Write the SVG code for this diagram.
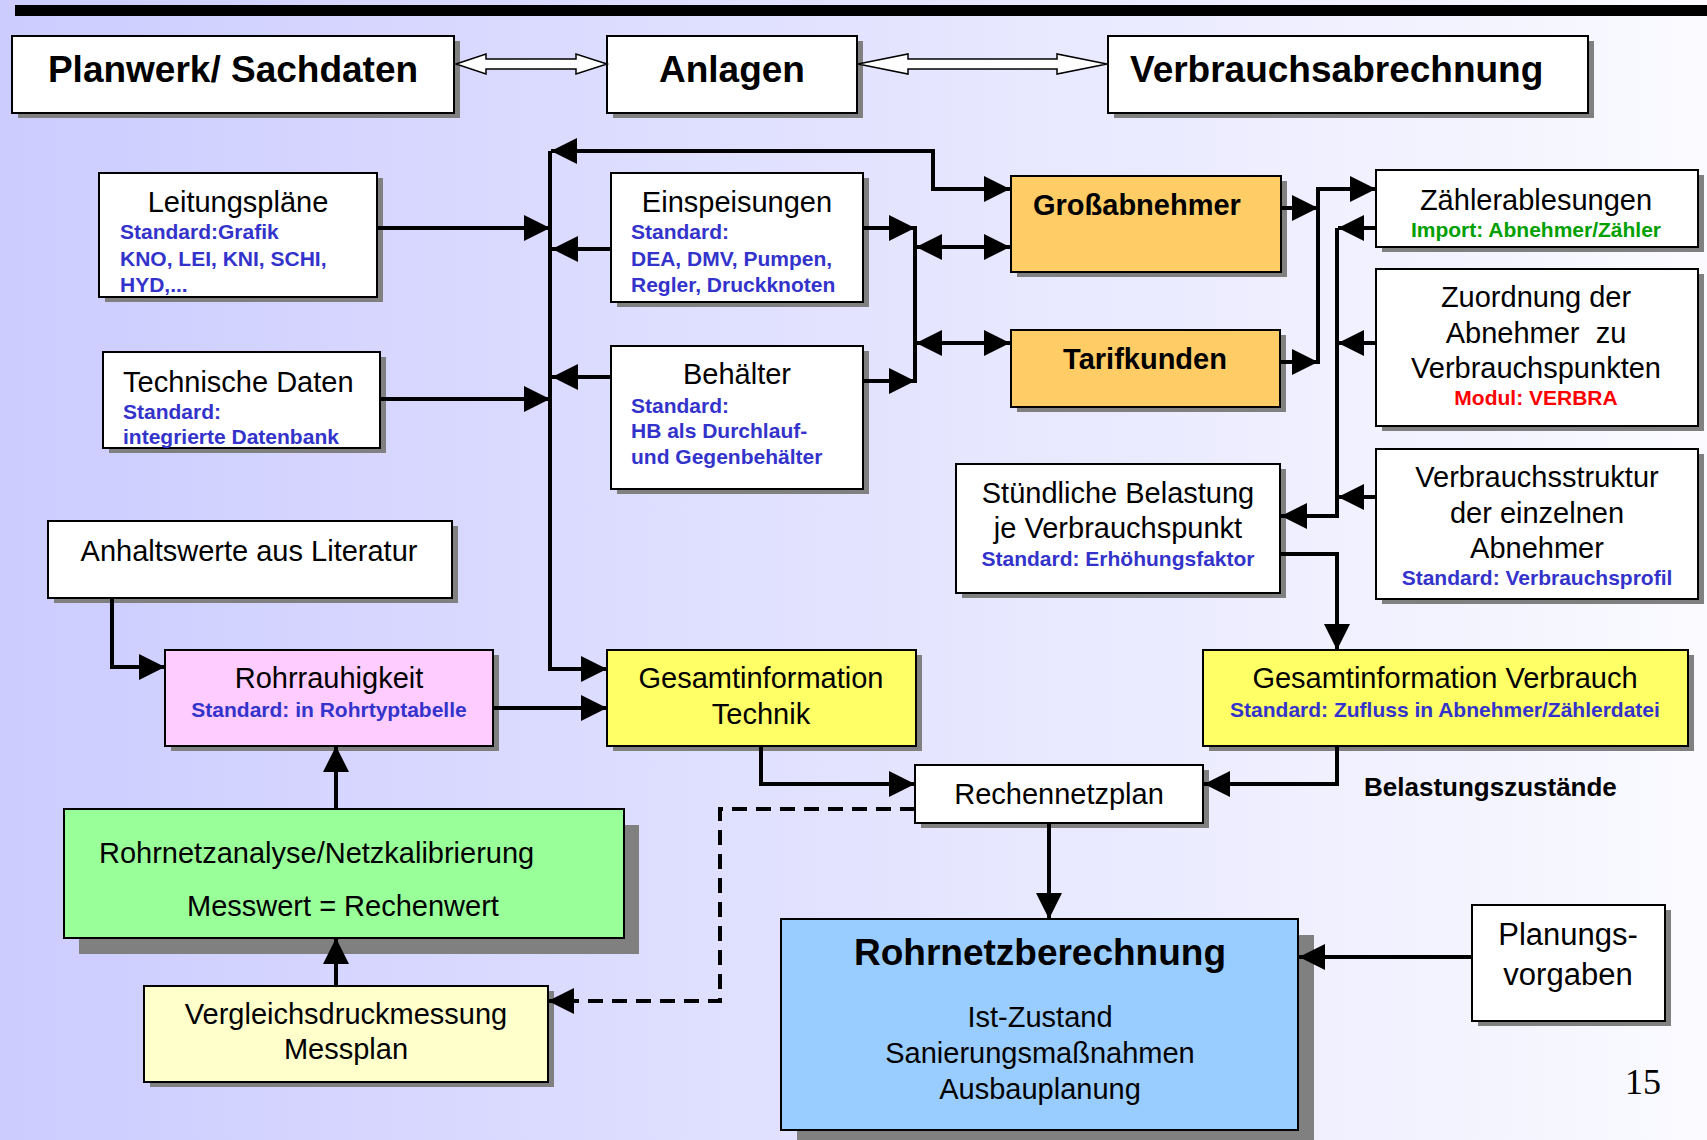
<svg xmlns="http://www.w3.org/2000/svg" width="1707" height="1140" viewBox="0 0 1707 1140">
<defs>
<linearGradient id="bg" x1="0" y1="0" x2="1" y2="0">
<stop offset="0" stop-color="#CCCCFF"/>
<stop offset="1" stop-color="#FAFAFF"/>
</linearGradient>
<marker id="ah" markerUnits="userSpaceOnUse" markerWidth="26" markerHeight="26" refX="26" refY="13" orient="auto-start-reverse">
<path d="M0,0 L26,13 L0,26 z" fill="#000"/>
</marker>
<style>
.box{stroke:#000;stroke-width:2}
.w{fill:#fff}
.sh{fill:#808080}
.t{font-family:"Liberation Sans",Arial,sans-serif;font-size:29px;fill:#000}
.b{font-weight:bold}
.h{font-size:37px}
.s{font-family:"Liberation Sans",Arial,sans-serif;font-size:21px;font-weight:bold;fill:#3333CC}
.c{text-anchor:middle}
.ln{fill:none;stroke:#000;stroke-width:4}
.arr{marker-end:url(#ah)}
.dbl{marker-start:url(#ah);marker-end:url(#ah)}
.dash{stroke-dasharray:15 9}
.hollow{fill:#fff;stroke:#000;stroke-width:1.5}
</style>
</defs>
<rect x="0" y="0" width="1707" height="1140" fill="url(#bg)"/>
<rect x="15" y="5" width="1692" height="11" fill="#000"/>

<g id="planwerk">
<rect class="sh" x="18" y="41" width="442" height="77"/>
<rect class="box w" x="12" y="36" width="442" height="77"/>
<text class="t b h c" x="233" y="82">Planwerk/ Sachdaten</text>
</g>
<g id="anlagen">
<rect class="sh" x="613" y="41" width="250" height="77"/>
<rect class="box w" x="607" y="36" width="250" height="77"/>
<text class="t b h c" x="732" y="82">Anlagen</text>
</g>
<g id="verbrauchsabrechnung">
<rect class="sh" x="1114" y="41" width="480" height="77"/>
<rect class="box w" x="1108" y="36" width="480" height="77"/>
<text class="t b h" x="1130" y="82">Verbrauchsabrechnung</text>
</g>

<g id="leitungsplaene">
<rect class="sh" x="105" y="178" width="278" height="124"/>
<rect class="box w" x="99" y="173" width="278" height="124"/>
<text class="t c" x="238" y="212">Leitungspläne</text>
<text class="s" x="120" y="239">Standard:Grafik</text>
<text class="s" x="120" y="266">KNO, LEI, KNI, SCHI,</text>
<text class="s" x="120" y="292">HYD,...</text>
</g>
<g id="einspeisungen">
<rect class="sh" x="617" y="178" width="252" height="129"/>
<rect class="box w" x="611" y="173" width="252" height="129"/>
<text class="t c" x="737" y="212">Einspeisungen</text>
<text class="s" x="631" y="239">Standard:</text>
<text class="s" x="631" y="266">DEA, DMV, Pumpen,</text>
<text class="s" x="631" y="292">Regler, Druckknoten</text>
</g>
<g id="technische-daten">
<rect class="sh" x="109" y="357" width="277" height="96"/>
<rect class="box w" x="103" y="352" width="277" height="96"/>
<text class="t" x="123" y="392">Technische Daten</text>
<text class="s" x="123" y="419">Standard:</text>
<text class="s" x="123" y="444">integrierte Datenbank</text>
</g>
<g id="behaelter">
<rect class="sh" x="617" y="351" width="252" height="143"/>
<rect class="box w" x="611" y="346" width="252" height="143"/>
<text class="t c" x="737" y="384">Behälter</text>
<text class="s" x="631" y="413">Standard:</text>
<text class="s" x="631" y="438">HB als Durchlauf-</text>
<text class="s" x="631" y="464">und Gegenbehälter</text>
</g>
<g id="anhaltswerte">
<rect class="sh" x="54" y="526" width="404" height="77"/>
<rect class="box w" x="48" y="521" width="404" height="77"/>
<text class="t c" x="249" y="561">Anhaltswerte aus Literatur</text>
</g>
<g id="rohrrauhigkeit">
<rect class="sh" x="171" y="655" width="328" height="96"/>
<rect class="box" fill="#FFCCFF" x="165" y="650" width="328" height="96"/>
<text class="t c" x="329" y="688">Rohrrauhigkeit</text>
<text class="s c" x="329" y="717">Standard: in Rohrtyptabelle</text>
</g>
<g id="gesamtinfo-technik">
<rect class="sh" x="613" y="655" width="309" height="96"/>
<rect class="box" fill="#FFFF66" x="607" y="650" width="309" height="96"/>
<text class="t c" x="761" y="688">Gesamtinformation</text>
<text class="t c" x="761" y="724">Technik</text>
</g>
<g id="grossabnehmer">
<rect class="sh" x="1017" y="181" width="270" height="96"/>
<rect class="box" fill="#FFCC66" x="1011" y="176" width="270" height="96"/>
<text class="t b" x="1033" y="215">Großabnehmer</text>
</g>
<g id="tarifkunden">
<rect class="sh" x="1017" y="335" width="269" height="77"/>
<rect class="box" fill="#FFCC66" x="1011" y="330" width="269" height="77"/>
<text class="t b c" x="1145" y="369">Tarifkunden</text>
</g>
<g id="zaehlerablesungen">
<rect class="sh" x="1382" y="175" width="322" height="77"/>
<rect class="box w" x="1376" y="170" width="322" height="77"/>
<text class="t c" x="1536" y="210">Zählerablesungen</text>
<text class="s c" x="1536" y="237" fill="#00A000" style="fill:#00A000">Import: Abnehmer/Zähler</text>
</g>
<g id="zuordnung">
<rect class="sh" x="1382" y="274" width="322" height="157"/>
<rect class="box w" x="1376" y="269" width="322" height="157"/>
<text class="t c" x="1536" y="307">Zuordnung der</text>
<text class="t c" x="1536" y="343" xml:space="preserve">Abnehmer  zu</text>
<text class="t c" x="1536" y="378">Verbrauchspunkten</text>
<text class="s c" x="1536" y="405" style="fill:#FF0000">Modul: VERBRA</text>
</g>
<g id="verbrauchsstruktur">
<rect class="sh" x="1382" y="454" width="322" height="150"/>
<rect class="box w" x="1376" y="449" width="322" height="150"/>
<text class="t c" x="1537" y="487">Verbrauchsstruktur</text>
<text class="t c" x="1537" y="523">der einzelnen</text>
<text class="t c" x="1537" y="558">Abnehmer</text>
<text class="s c" x="1537" y="585">Standard: Verbrauchsprofil</text>
</g>
<g id="stuendliche-belastung">
<rect class="sh" x="962" y="469" width="324" height="129"/>
<rect class="box w" x="956" y="464" width="324" height="129"/>
<text class="t c" x="1118" y="503">Stündliche Belastung</text>
<text class="t c" x="1118" y="538">je Verbrauchspunkt</text>
<text class="s c" x="1118" y="566">Standard: Erhöhungsfaktor</text>
</g>
<g id="gesamtinfo-verbrauch">
<rect class="sh" x="1209" y="655" width="485" height="96"/>
<rect class="box" fill="#FFFF66" x="1203" y="650" width="485" height="96"/>
<text class="t c" x="1445" y="688">Gesamtinformation Verbrauch</text>
<text class="s c" x="1445" y="717">Standard: Zufluss in Abnehmer/Zählerdatei</text>
</g>
<g id="rechennetzplan">
<rect class="sh" x="921" y="770" width="288" height="58"/>
<rect class="box w" x="915" y="765" width="288" height="58"/>
<text class="t c" x="1059" y="804">Rechennetzplan</text>
</g>
<g id="rohrnetzanalyse">
<rect class="sh" x="79" y="825" width="560" height="129"/>
<rect class="box" fill="#99FF99" x="64" y="809" width="560" height="129"/>
<text class="t" x="99" y="863">Rohrnetzanalyse/Netzkalibrierung</text>
<text class="t" x="187" y="916">Messwert = Rechenwert</text>
</g>
<g id="vergleichsdruckmessung">
<rect class="sh" x="150" y="991" width="404" height="96"/>
<rect class="box" fill="#FFFFCC" x="144" y="986" width="404" height="96"/>
<text class="t c" x="346" y="1024">Vergleichsdruckmessung</text>
<text class="t c" x="346" y="1059">Messplan</text>
</g>
<g id="rohrnetzberechnung">
<rect class="sh" x="797" y="935" width="517" height="211"/>
<rect class="box" fill="#99CCFF" x="781" y="919" width="517" height="211"/>
<text class="t b h c" x="1040" y="965">Rohrnetzberechnung</text>
<text class="t c" x="1040" y="1027">Ist-Zustand</text>
<text class="t c" x="1040" y="1063">Sanierungsmaßnahmen</text>
<text class="t c" x="1040" y="1099">Ausbauplanung</text>
</g>
<g id="planungsvorgaben">
<rect class="sh" x="1478" y="910" width="193" height="116"/>
<rect class="box w" x="1472" y="905" width="193" height="116"/>
<text class="t c" x="1568" y="945" style="font-size:31px">Planungs-</text>
<text class="t c" x="1568" y="985" style="font-size:31px">vorgaben</text>
</g>
<g id="belastungszustaende">
<text class="t b" x="1364" y="796" style="font-size:26px">Belastungszustände</text>
</g>
<g id="page-number">
<text x="1643" y="1094" text-anchor="middle" style="font-family:'Liberation Serif','Times New Roman',serif;font-size:36px;fill:#000">15</text>
</g>

<g id="connectors">
<polygon class="hollow" points="456,64 486,54 486,59 576,59 576,54 607,64 576,74 576,69 486,69 486,74"/>
<polygon class="hollow" points="858,64 908,54 908,59 1057,59 1057,54 1107,64 1057,74 1057,69 908,69 908,74"/>
<path class="ln dbl" d="M1010,189 L933,189 L933,151 L551,151"/>
<path class="ln arr" d="M550,151 L550,669 L607,669"/>
<path class="ln arr" d="M377,228 L550,228"/>
<path class="ln arr" d="M611,249 L552,249"/>
<path class="ln arr" d="M380,399 L550,399"/>
<path class="ln arr" d="M611,377 L552,377"/>
<path class="ln arr" d="M493,708 L607,708"/>
<path class="ln arr" d="M112,598 L112,667 L165,667"/>
<path class="ln arr" d="M863,228 L915,228"/>
<path class="ln arr" d="M863,381 L915,381"/>
<path class="ln" d="M915,226 L915,383"/>
<path class="ln dbl" d="M916,247 L1010,247"/>
<path class="ln dbl" d="M916,343 L1010,343"/>
<path class="ln arr" d="M1282,208 L1318,208"/>
<path class="ln arr" d="M1280,362 L1318,362"/>
<path class="ln arr" d="M1318,364 L1318,189 L1376,189"/>
<path class="ln arr" d="M1376,228 L1338,228"/>
<path class="ln arr" d="M1376,343 L1338,343"/>
<path class="ln arr" d="M1376,497 L1338,497"/>
<path class="ln arr" d="M1337,228 L1337,516 L1281,516"/>
<path class="ln arr" d="M1280,554 L1337,554 L1337,650"/>
<path class="ln arr" d="M1337,746 L1337,784 L1204,784"/>
<path class="ln arr" d="M761,746 L761,784 L915,784"/>
<path class="ln arr" d="M1049,823 L1049,919"/>
<path class="ln arr" d="M1472,957 L1299,957"/>
<path class="ln arr dash" d="M915,809 L720,809 L720,1001 L548,1001"/>
<path class="ln arr" d="M336,809 L336,746"/>
<path class="ln arr" d="M336,986 L336,938"/>
</g>
</svg>
